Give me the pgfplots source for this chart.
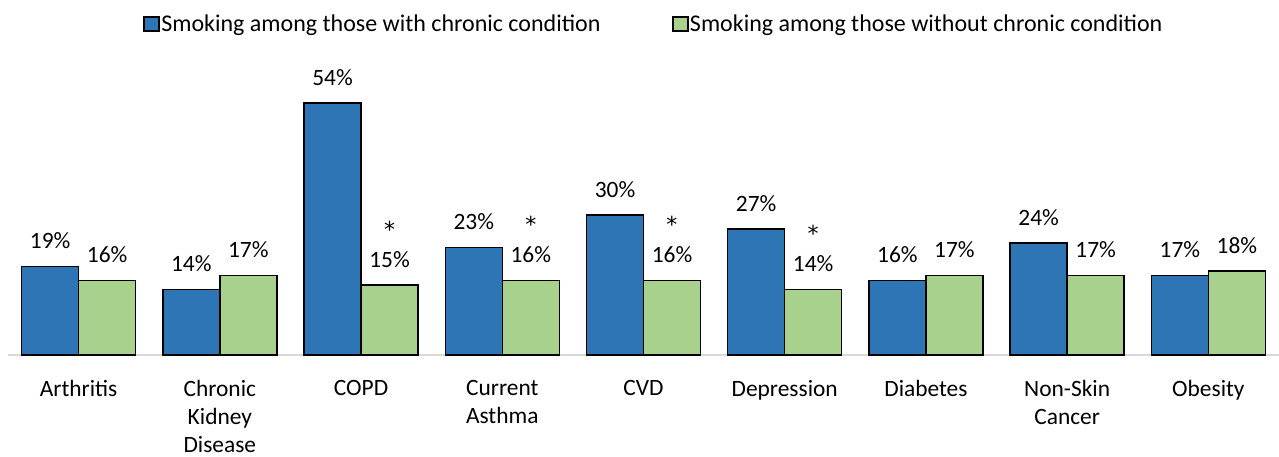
\documentclass[border=0pt]{standalone}
\usepackage{pgfplots}
\pgfplotsset{compat=1.18}
\usepackage{fontspec}
\setmainfont{Carlito}
\newfontfamily\djf{DejaVu Sans}
\definecolor{cblue}{HTML}{2E75B6}
\definecolor{cgreen}{HTML}{A9D18E}
\definecolor{cbase}{HTML}{D9D9D9}
\newcommand{\bigf}{\fontsize{23.4}{28}\selectfont}
\newcommand{\legf}{\fontsize{24}{28}\selectfont}
\newcommand{\st}[1]{{\djf\fontsize{22}{24}\selectfont *}\\[2pt]#1}
\begin{document}
\begin{tikzpicture}[x=1pt,y=1pt]
\useasboundingbox (0,0) rectangle (1279,456);
\begin{axis}[
  at={(8pt,101pt)}, anchor=south west,
  scale only axis, width=1271pt, height=295pt,
  xmin=-0.5, xmax=8.5, ymin=0, ymax=63.2,
  clip=false,
  ybar=0pt, bar width=57pt,
  axis x line*=bottom, axis y line=none,
  x axis line style={draw=cbase, line width=1.6pt, -},
  xtick={0,1,2,3,4,5,6,7,8},
  xticklabels={Arthritis, Chronic\\Kidney\\Disease, COPD, Current\\Asthma, CVD, Depression, Diabetes, Non-Skin\\Cancer, Obesity},
  major tick length=0pt,
  xticklabel style={align=center, font=\bigf, inner sep=0pt, anchor=north, yshift=-25pt},
  ytick=\empty,
  nodes near coords,
  point meta=explicit symbolic,
  every node near coord/.append style={font=\bigf, align=center, anchor=south, inner sep=0pt, yshift=17pt, text=black},
  legend columns=2,
  legend style={at={(0.508,1.122)}, anchor=center, draw=none, fill=none, font=\legf,
    /tikz/every even column/.append style={column sep=70pt},
    nodes={inner xsep=1.5pt, inner ysep=0pt}},
]
\addplot[fill=cblue, draw=black, line width=1.5pt,
  legend image code/.code={\draw[fill=cblue, draw=black, line width=1.5pt] (0pt,-7pt) rectangle (15pt,7pt);}]
  coordinates {
  (0,19) [19\%]
  (1,14) [14\%]
  (2,54) [54\%]
  (3,23) [23\%]
  (4,30) [30\%]
  (5,27) [27\%]
  (6,16) [16\%]
  (7,24) [24\%]
  (8,17) [17\%]
};
\addplot[fill=cgreen, draw=black, line width=1.5pt,
  legend image code/.code={\draw[fill=cgreen, draw=black, line width=1.5pt] (0pt,-7pt) rectangle (15pt,7pt);}]
  coordinates {
  (0,16) [16\%]
  (1,17) [17\%]
  (2,15) [{\st{15\%}}]
  (3,16) [{\st{16\%}}]
  (4,16) [{\st{16\%}}]
  (5,14) [{\st{14\%}}]
  (6,17) [17\%]
  (7,17) [17\%]
  (8,18) [18\%]
};
\legend{Smoking among those with chronic condition, Smoking among those without chronic condition}
\end{axis}
\end{tikzpicture}
\end{document}
